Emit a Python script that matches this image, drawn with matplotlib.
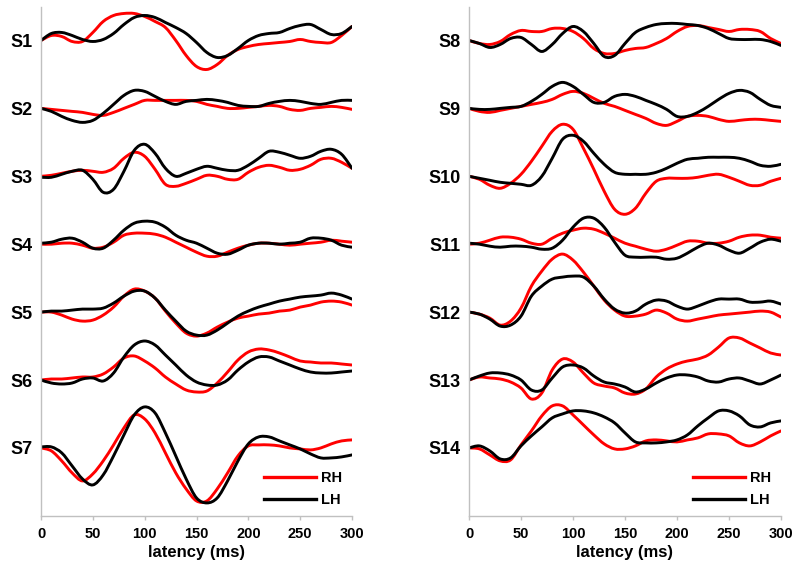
import numpy as np
import matplotlib
matplotlib.use("Agg")
import matplotlib.pyplot as plt
from matplotlib.path import Path
from matplotlib.patches import PathPatch
from matplotlib.lines import Line2D

plt.rcParams['font.family'] = ['Liberation Sans', 'DejaVu Sans']

latency = list(range(0, 301, 10))

# amplitudes (arbitrary units, up = positive), sampled every 10 ms
RH_S1 = [0, 5, 4, -1, -1, 8, 19, 25, 27, 27, 24, 19, 13, 0, -15, -26, -29, -24, -15, -9, -6, -4, -3, -2, -1, 1, -1, -2, -2, 5, 14]
LH_S1 = [0, 7, 8, 5, 1, -1, 1, 7, 16, 23, 25, 23, 18, 13, 7, -2, -12, -17, -15, -8, 0, 5, 7, 8, 12, 15, 16, 11, 6, 7, 14]
RH_S2 = [0, -1, -2, -3, -4, -6, -7, -4, 0, 4, 8, 8, 8, 8, 8, 7, 4, 2, 0, 0, 1, 2, 3, 2, -1, -2, 0, 1, 2, 1, -1]
LH_S2 = [0, -3, -8, -12, -14, -12, -5, 4, 13, 18, 17, 12, 7, 4, 7, 8, 9, 8, 6, 3, 2, 2, 5, 7, 8, 7, 5, 4, 6, 8, 8]
RH_S3 = [0, 1, 3, 5, 6, 5, 4, 8, 18, 24, 20, 7, -8, -10, -7, -3, 1, 0, -3, -3, 4, 9, 11, 9, 6, 7, 11, 17, 18, 14, 8]
LH_S3 = [-1, -1, 2, 5, 6, -3, -16, -13, 5, 26, 32, 23, 8, 0, 3, 7, 10, 8, 6, 6, 11, 18, 25, 24, 21, 18, 20, 25, 27, 22, 8]
RH_S4 = [0, 0, 1, 1, -1, -4, -3, 2, 9, 11, 11, 10, 7, 2, -3, -8, -12, -12, -8, -4, -1, 1, 1, 0, -1, 0, 1, 2, 4, 3, 2]
LH_S4 = [1, 2, 5, 6, 2, -4, -4, 4, 14, 21, 23, 22, 17, 9, 4, 1, -4, -9, -10, -6, -1, 1, 1, 0, 1, 2, 6, 6, 4, -1, -3]
RH_S5 = [0, 0, -3, -7, -9, -8, -3, 5, 16, 23, 21, 14, 1, -11, -21, -24, -21, -15, -10, -6, -4, -2, -1, 1, 2, 5, 7, 10, 11, 10, 7]
LH_S5 = [0, 1, 1, 2, 3, 3, 4, 9, 16, 21, 21, 14, 2, -9, -19, -23, -23, -18, -11, -4, 1, 5, 8, 11, 13, 15, 16, 17, 19, 17, 13]
RH_S6 = [0, 1, 1, 2, 3, 3, 6, 13, 22, 24, 19, 12, 3, -4, -10, -12, -11, -3, 8, 20, 28, 31, 30, 27, 23, 19, 18, 17, 17, 16, 15]
LH_S6 = [0, -3, -4, -3, 1, 2, -1, 7, 23, 35, 39, 35, 25, 15, 5, -2, -5, -5, 0, 10, 18, 23, 23, 19, 15, 11, 8, 7, 7, 8, 9]
RH_S7 = [0, -3, -13, -25, -33, -26, -13, 3, 20, 33, 29, 15, -5, -25, -41, -53, -53, -41, -25, -8, 2, 3, 3, 2, 0, -1, -2, 0, 4, 7, 8]
LH_S7 = [1, 1, -5, -18, -31, -37, -27, -8, 13, 33, 41, 35, 15, -8, -31, -50, -55, -50, -33, -13, 4, 11, 11, 7, 3, -1, -6, -10, -10, -9, -7]
RH_S8 = [0, -3, -4, -1, 6, 10, 9, 9, 12, 12, 9, 2, -8, -13, -13, -10, -8, -7, -3, 2, 9, 14, 15, 13, 11, 9, 11, 11, 9, 2, -3]
LH_S8 = [0, -3, -7, -4, 2, 3, -4, -11, -4, 7, 14, 9, -3, -16, -15, -3, 8, 13, 16, 17, 17, 16, 15, 12, 7, 2, 1, 1, 1, -1, -5]
RH_S9 = [0, -3, -4, -2, 0, 2, 4, 6, 9, 14, 17, 15, 10, 5, 2, -2, -6, -10, -15, -17, -13, -8, -7, -8, -11, -13, -12, -11, -11, -12, -13]
LH_S9 = [0, -1, -1, 0, 1, 2, 7, 14, 22, 26, 22, 14, 6, 6, 12, 14, 12, 8, 4, -1, -8, -8, -4, 2, 9, 15, 18, 16, 9, 3, 1]
RH_S10 = [0, -3, -9, -12, -7, 2, 15, 30, 45, 52, 47, 28, 7, -15, -33, -38, -32, -17, -5, -2, -2, -2, -1, 1, 2, -1, -5, -9, -9, -5, -2]
LH_S10 = [0, -2, -4, -6, -7, -8, -9, 0, 18, 37, 41, 35, 23, 12, 4, 2, 2, 2, 4, 8, 13, 17, 18, 19, 19, 19, 18, 15, 11, 10, 12]
RH_S11 = [0, 1, 4, 7, 7, 5, 1, 0, 6, 11, 14, 16, 15, 11, 6, 1, -2, -5, -7, -5, -1, 3, 3, 1, 1, 3, 7, 9, 9, 7, 6]
LH_S11 = [1, 0, -2, -3, -2, -2, -3, -5, -4, 4, 17, 26, 26, 17, 2, -11, -13, -13, -13, -15, -14, -9, -3, 1, -1, -6, -9, -4, 2, 5, 3]
RH_S12 = [0, -2, -6, -13, -9, 4, 26, 41, 53, 58, 52, 40, 26, 12, 2, -4, -4, -2, 2, -1, -7, -9, -7, -5, -3, -2, -1, 0, 1, 0, -5]
LH_S12 = [0, -2, -7, -14, -13, -4, 16, 26, 33, 35, 36, 35, 26, 13, 3, -1, 1, 8, 12, 11, 6, 3, 6, 10, 13, 13, 13, 10, 10, 11, 8]
RH_S13 = [0, 3, 2, 1, -2, -8, -19, -13, 10, 21, 18, 7, -3, -6, -8, -13, -14, -9, 3, 11, 16, 19, 21, 25, 33, 42, 42, 37, 32, 27, 25]
LH_S13 = [0, 4, 7, 7, 5, 0, -10, -10, 2, 13, 15, 12, 4, -2, -4, -7, -12, -9, -3, 2, 5, 5, 3, -1, -2, 1, 2, -1, -4, 0, 5]
RH_S14 = [0, -1, -7, -13, -12, 3, 17, 32, 42, 42, 33, 23, 13, 4, -1, -1, 2, 7, 8, 7, 6, 8, 10, 14, 14, 12, 5, 2, 6, 12, 17]
LH_S14 = [0, 2, -3, -11, -10, 2, 12, 21, 30, 34, 37, 37, 35, 31, 25, 15, 6, 5, 5, 6, 8, 13, 22, 30, 37, 37, 32, 23, 21, 25, 27]

left_subjects = ["S1", "S2", "S3", "S4", "S5", "S6", "S7"]
right_subjects = ["S8", "S9", "S10", "S11", "S12", "S13", "S14"]
left_rh = [RH_S1, RH_S2, RH_S3, RH_S4, RH_S5, RH_S6, RH_S7]
left_lh = [LH_S1, LH_S2, LH_S3, LH_S4, LH_S5, LH_S6, LH_S7]
right_rh = [RH_S8, RH_S9, RH_S10, RH_S11, RH_S12, RH_S13, RH_S14]
right_lh = [LH_S8, LH_S9, LH_S10, LH_S11, LH_S12, LH_S13, LH_S14]
xticks = [0, 50, 100, 150, 200, 250, 300]

RED = "#ff0000"
BLACK = "#000000"
GRAY = "#c0c0c0"
SPACING = 67.9
TOP_BASE = 475.0
LW = 2.1


def smooth_line(ax, xs, ys, color):
    """Draw a smoothed line through the data points (Excel-style smoothing)."""
    p = np.column_stack([np.asarray(xs, float), np.asarray(ys, float)])
    n = len(p)
    verts = [p[0]]
    codes = [Path.MOVETO]
    for i in range(n - 1):
        p0 = p[i - 1] if i > 0 else p[i]
        p1 = p[i]
        p2 = p[i + 1]
        p3 = p[i + 2] if i + 2 < n else p[i + 1]
        c1 = p1 + (p2 - p0) / 6.0
        c2 = p2 - (p3 - p1) / 6.0
        verts += [c1, c2, p2]
        codes += [Path.CURVE4] * 3
    patch = PathPatch(Path(verts, codes), facecolor='none', edgecolor=color,
                      lw=LW, joinstyle='round', capstyle='round')
    ax.add_patch(patch)


fig = plt.figure(figsize=(8.0, 5.67), dpi=100)
ax_l = fig.add_axes([41 / 800, 0.0908, 311 / 800, 0.8969])
ax_r = fig.add_axes([469 / 800, 0.0908, 312 / 800, 0.8969])

for ax, subs, rhs, lhs in [(ax_l, left_subjects, left_rh, left_lh),
                           (ax_r, right_subjects, right_rh, right_lh)]:
    bases = [TOP_BASE - SPACING * i for i in range(len(subs))]
    for i, (rh, lh) in enumerate(zip(rhs, lhs)):
        b = bases[i]
        smooth_line(ax, latency, np.array(rh) + b, RED)
        smooth_line(ax, latency, np.array(lh) + b, BLACK)
    ax.set_xlim(0, 300)
    ax.set_ylim(0, 508.5)
    ax.set_yticks(bases)
    ax.set_yticklabels(subs, fontsize=13, fontweight='bold')
    ax.tick_params(axis='y', length=0, pad=6)
    ax.set_xticks(xticks)
    ax.set_xticklabels([str(t) for t in xticks], fontsize=10.5, fontweight='bold')
    ax.tick_params(axis='x', length=3, width=1, color=GRAY, pad=5)
    for s in ['top', 'right']:
        ax.spines[s].set_visible(False)
    for s in ['left', 'bottom']:
        ax.spines[s].set_color(GRAY)
        ax.spines[s].set_linewidth(1.0)
    ax.set_xlabel("latency (ms)", fontsize=12, fontweight='bold', labelpad=3)
    handles = [Line2D([], [], color=RED, lw=2.4), Line2D([], [], color=BLACK, lw=2.4)]
    ax.legend(handles, ["RH", "LH"], loc='lower right', bbox_to_anchor=(1.005, -0.006),
              frameon=False, handlelength=3.55, handletextpad=0.35, labelspacing=0.55,
              borderaxespad=0.4, prop={'weight': 'bold', 'size': 10.5})

fig.savefig("out.png", dpi=100)
